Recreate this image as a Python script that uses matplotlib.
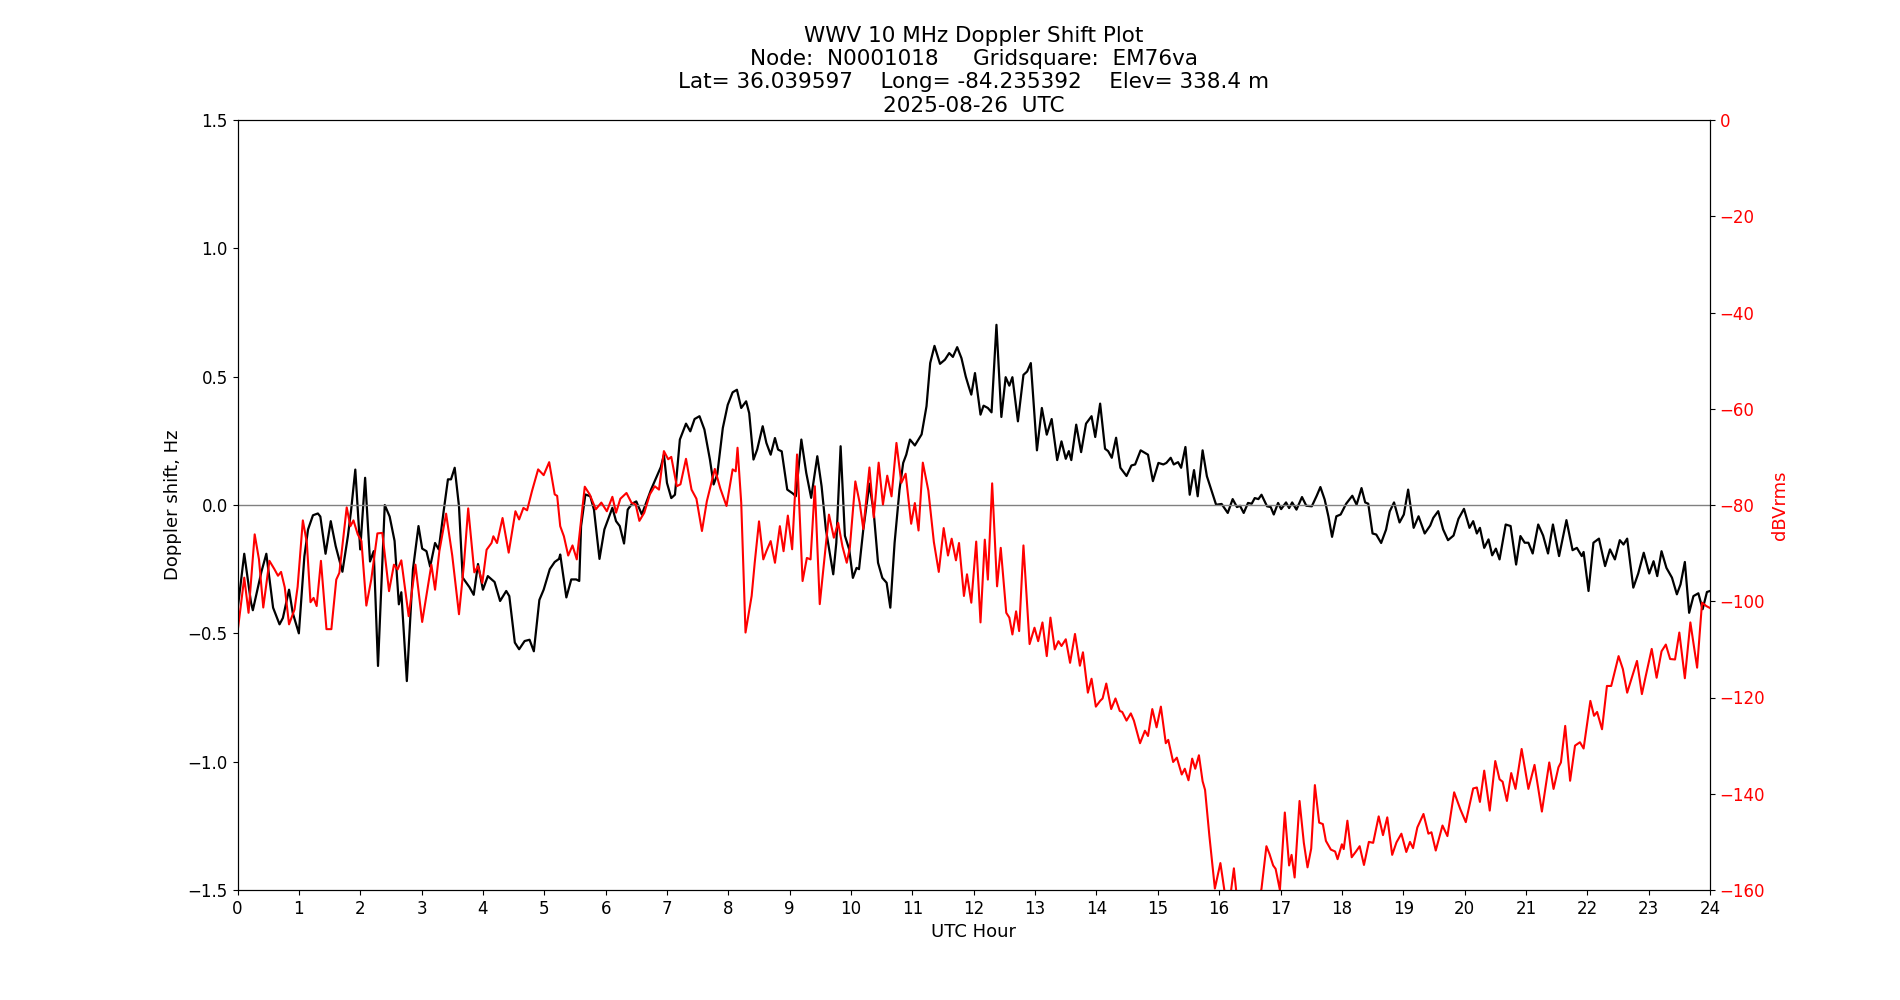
import numpy as np
import matplotlib
matplotlib.use('Agg')
import matplotlib.pyplot as plt

# Doppler shift (Hz)
doppler_hours = [0.0, 0.11, 0.22, 0.25, 0.39, 0.47, 0.58, 0.685, 0.74, 0.84, 0.90, 1.0, 1.09, 1.15,
                 1.23, 1.31, 1.35, 1.435, 1.52, 1.60, 1.71, 1.80, 1.85, 1.92, 2.0, 2.08, 2.16, 2.22,
                 2.29, 2.40, 2.48, 2.56, 2.63, 2.67, 2.76, 2.86, 2.95, 3.01, 3.08, 3.14, 3.22, 3.28,
                 3.36, 3.43, 3.48, 3.54, 3.61, 3.67, 3.78, 3.85, 3.92, 4.0, 4.08, 4.19, 4.28, 4.38,
                 4.43, 4.52, 4.59, 4.68, 4.76, 4.83, 4.92, 4.99, 5.09, 5.17, 5.24, 5.26, 5.36, 5.44,
                 5.52, 5.57, 5.60, 5.67, 5.75, 5.81, 5.90, 5.98, 6.11, 6.17, 6.23, 6.30, 6.36, 6.43,
                 6.50, 6.59, 6.66, 6.74, 6.83, 6.90, 6.95, 7.00, 7.07, 7.13, 7.21, 7.31, 7.38, 7.45,
                 7.53, 7.61, 7.70, 7.76, 7.82, 7.91, 7.99, 8.07, 8.14, 8.21, 8.29, 8.34, 8.41, 8.47,
                 8.56, 8.62, 8.69, 8.76, 8.81, 8.87, 8.96, 9.05, 9.10, 9.19, 9.27, 9.35, 9.45, 9.52,
                 9.59, 9.71, 9.76, 9.83, 9.90, 9.97, 10.03, 10.09, 10.13, 10.20, 10.30, 10.37, 10.44,
                 10.51, 10.58, 10.64, 10.71, 10.79, 10.85, 10.90, 10.96, 11.04, 11.15, 11.23, 11.29,
                 11.36, 11.45, 11.53, 11.60, 11.66, 11.73, 11.80, 11.87, 11.92, 11.96, 12.02, 12.11,
                 12.16, 12.23, 12.29, 12.37, 12.45, 12.52, 12.58, 12.63, 12.72, 12.81, 12.87, 12.93,
                 13.03, 13.11, 13.19, 13.27, 13.36, 13.43, 13.50, 13.55, 13.59, 13.67, 13.75, 13.83,
                 13.92, 13.98, 14.06, 14.14, 14.19, 14.25, 14.32, 14.39, 14.49, 14.57, 14.63, 14.72,
                 14.84, 14.92, 15.01, 15.09, 15.14, 15.21, 15.26, 15.33, 15.38, 15.45, 15.52, 15.59,
                 15.65, 15.73, 15.80, 15.88, 15.95, 16.04, 16.14, 16.22, 16.29, 16.34, 16.40, 16.47,
                 16.53, 16.58, 16.64, 16.69, 16.78, 16.84, 16.89, 16.96, 17.01, 17.09, 17.14, 17.19,
                 17.26, 17.35, 17.42, 17.51, 17.59, 17.65, 17.72, 17.78, 17.84, 17.91, 17.98, 18.07,
                 18.17, 18.24, 18.32, 18.38, 18.43, 18.50, 18.56, 18.64, 18.72, 18.78, 18.85, 18.94,
                 19.01, 19.08, 19.17, 19.25, 19.35, 19.44, 19.49, 19.57, 19.65, 19.73, 19.82, 19.90,
                 19.99, 20.08, 20.14, 20.20, 20.25, 20.32, 20.39, 20.45, 20.51, 20.57, 20.67, 20.75,
                 20.84, 20.91, 20.98, 21.04, 21.11, 21.20, 21.28, 21.36, 21.44, 21.54, 21.66, 21.76,
                 21.83, 21.91, 21.94, 22.02, 22.10, 22.19, 22.29, 22.37, 22.45, 22.53, 22.59, 22.65,
                 22.75, 22.83, 22.92, 23.01, 23.08, 23.14, 23.21, 23.29, 23.38, 23.46, 23.52, 23.59,
                 23.66, 23.73, 23.81, 23.88, 23.95, 24.0]
doppler_hz = [-0.41, -0.19, -0.38, -0.41, -0.26, -0.19, -0.40, -0.465, -0.44, -0.33, -0.42, -0.50,
              -0.20, -0.095, -0.04, -0.033, -0.045, -0.19, -0.063, -0.16, -0.26, -0.12, -0.024, 0.138,
              -0.173, 0.106, -0.22, -0.18, -0.627, 0.0, -0.045, -0.14, -0.387, -0.34, -0.686, -0.25,
              -0.082, -0.17, -0.18, -0.24, -0.148, -0.173, -0.024, 0.10, 0.10, 0.145, -0.005, -0.283,
              -0.32, -0.35, -0.23, -0.33, -0.277, -0.30, -0.374, -0.335, -0.355, -0.536, -0.562,
              -0.53, -0.525, -0.57, -0.37, -0.33, -0.25, -0.222, -0.21, -0.193, -0.36, -0.29, -0.29,
              -0.296, -0.082, 0.041, 0.034, -0.018, -0.21, -0.095, -0.011, -0.063, -0.082, -0.15,
              -0.018, 0.005, 0.014, -0.037, 0.008, 0.06, 0.109, 0.148, 0.196, 0.086, 0.027, 0.04,
              0.255, 0.317, 0.287, 0.335, 0.346, 0.294, 0.177, 0.08, 0.12, 0.30, 0.39, 0.439, 0.449,
              0.378, 0.404, 0.358, 0.177, 0.216, 0.307, 0.242, 0.196, 0.261, 0.216, 0.209, 0.06,
              0.045, 0.034, 0.255, 0.125, 0.028, 0.19, 0.073, -0.095, -0.27, -0.147, 0.229, -0.12,
              -0.173, -0.284, -0.245, -0.25, -0.095, 0.083, -0.03, -0.225, -0.284, -0.303, -0.40,
              -0.147, 0.06, 0.164, 0.196, 0.255, 0.232, 0.275, 0.385, 0.553, 0.62, 0.55, 0.566,
              0.592, 0.577, 0.615, 0.572, 0.50, 0.46, 0.43, 0.514, 0.352, 0.387, 0.378, 0.361, 0.702,
              0.343, 0.498, 0.465, 0.498, 0.326, 0.507, 0.52, 0.553, 0.213, 0.378, 0.274, 0.335,
              0.175, 0.248, 0.18, 0.21, 0.175, 0.313, 0.206, 0.317, 0.346, 0.265, 0.395, 0.219, 0.21,
              0.184, 0.262, 0.145, 0.113, 0.154, 0.158, 0.213, 0.196, 0.093, 0.164, 0.158, 0.164,
              0.184, 0.158, 0.167, 0.145, 0.226, 0.04, 0.136, 0.034, 0.213, 0.112, 0.053, 0.001,
              0.004, -0.031, 0.023, -0.008, -0.003, -0.031, 0.008, 0.005, 0.027, 0.023, 0.04, -0.005,
              -0.008, -0.037, 0.008, -0.016, 0.01, -0.012, 0.01, -0.018, 0.031, -0.003, -0.005,
              0.036, 0.07, 0.021, -0.044, -0.124, -0.044, -0.037, 0.005, 0.036, 0.001, 0.066, 0.01,
              0.005, -0.111, -0.115, -0.148, -0.096, -0.025, 0.01, -0.068, -0.037, 0.06, -0.089,
              -0.044, -0.111, -0.08, -0.05, -0.024, -0.095, -0.137, -0.119, -0.054, -0.015, -0.089,
              -0.063, -0.111, -0.089, -0.167, -0.134, -0.196, -0.17, -0.212, -0.076, -0.082, -0.232,
              -0.121, -0.147, -0.147, -0.189, -0.076, -0.119, -0.189, -0.076, -0.199, -0.059, -0.176,
              -0.167, -0.199, -0.183, -0.335, -0.147, -0.131, -0.238, -0.173, -0.212, -0.137, -0.154,
              -0.131, -0.322, -0.267, -0.186, -0.267, -0.219, -0.277, -0.18, -0.245, -0.283, -0.348,
              -0.309, -0.222, -0.42, -0.355, -0.344, -0.406, -0.339, -0.335]

# signal level (dBVrms)
power_hours = [0.0, 0.11, 0.18, 0.28, 0.35, 0.42, 0.52, 0.60, 0.66, 0.71, 0.77, 0.84, 0.93, 0.98,
               1.065, 1.13, 1.19, 1.24, 1.29, 1.36, 1.45, 1.53, 1.61, 1.66, 1.78, 1.84, 1.89, 1.96,
               2.02, 2.10, 2.18, 2.28, 2.36, 2.47, 2.55, 2.61, 2.67, 2.79, 2.90, 3.01, 3.16, 3.22,
               3.29, 3.40, 3.50, 3.61, 3.69, 3.76, 3.86, 3.92, 3.99, 4.06, 4.14, 4.17, 4.23, 4.32,
               4.42, 4.53, 4.59, 4.66, 4.72, 4.80, 4.90, 4.99, 5.08, 5.17, 5.21, 5.26, 5.32, 5.39,
               5.46, 5.53, 5.66, 5.74, 5.84, 5.93, 6.02, 6.11, 6.17, 6.24, 6.34, 6.42, 6.49, 6.55,
               6.63, 6.72, 6.80, 6.87, 6.95, 7.02, 7.07, 7.16, 7.22, 7.31, 7.40, 7.48, 7.57, 7.65,
               7.78, 7.87, 7.97, 8.07, 8.12, 8.15, 8.21, 8.28, 8.38, 8.43, 8.50, 8.57, 8.62, 8.69,
               8.76, 8.84, 8.90, 8.97, 9.04, 9.12, 9.21, 9.28, 9.34, 9.41, 9.49, 9.56, 9.64, 9.72,
               9.79, 9.86, 9.93, 9.98, 10.07, 10.14, 10.20, 10.30, 10.37, 10.45, 10.52, 10.59, 10.66,
               10.74, 10.82, 10.89, 10.98, 11.04, 11.10, 11.17, 11.26, 11.35, 11.43, 11.51, 11.58,
               11.64, 11.71, 11.76, 11.84, 11.89, 11.96, 12.04, 12.11, 12.18, 12.23, 12.30, 12.38,
               12.44, 12.53, 12.58, 12.63, 12.69, 12.74, 12.81, 12.91, 12.99, 13.05, 13.12, 13.19,
               13.25, 13.32, 13.38, 13.43, 13.50, 13.57, 13.65, 13.73, 13.78, 13.86, 13.92, 13.99,
               14.06, 14.10, 14.16, 14.24, 14.31, 14.38, 14.42, 14.49, 14.56, 14.61, 14.71, 14.79,
               14.84, 14.91, 14.98, 15.05, 15.13, 15.17, 15.25, 15.31, 15.39, 15.44, 15.50, 15.56,
               15.61, 15.67, 15.73, 15.77, 15.81, 15.84, 15.93, 16.02, 16.09, 16.13, 16.19, 16.24,
               16.28, 16.35, 16.45, 16.55, 16.62, 16.65, 16.69, 16.77, 16.82, 16.88, 16.92, 16.99,
               17.07, 17.14, 17.18, 17.23, 17.31, 17.38, 17.44, 17.50, 17.56, 17.63, 17.69, 17.74,
               17.82, 17.89, 17.93, 18.00, 18.03, 18.09, 18.16, 18.23, 18.29, 18.36, 18.44, 18.51,
               18.60, 18.67, 18.74, 18.82, 18.89, 18.97, 19.05, 19.11, 19.16, 19.23, 19.33, 19.41,
               19.46, 19.53, 19.64, 19.72, 19.83, 19.93, 20.02, 20.14, 20.20, 20.25, 20.32, 20.41,
               20.50, 20.57, 20.62, 20.69, 20.76, 20.83, 20.93, 21.04, 21.14, 21.26, 21.38, 21.45,
               21.53, 21.57, 21.64, 21.72, 21.80, 21.88, 21.94, 22.05, 22.11, 22.16, 22.24, 22.32,
               22.39, 22.51, 22.58, 22.65, 22.81, 22.89, 22.95, 23.05, 23.13, 23.21, 23.28, 23.35,
               23.43, 23.50, 23.59, 23.68, 23.79, 23.87, 23.94, 24.0]
power_dbv = [-106.5, -95.1, -102.4, -86.1, -91.3, -101.3, -91.6, -93.3, -94.7, -93.9, -97.1, -104.8,
             -101.7, -97.0, -83.2, -87.8, -100.2, -99.3, -101.0, -91.6, -105.8, -105.8, -95.5, -94.1,
             -80.5, -84.4, -83.2, -86.1, -87.5, -100.9, -95.5, -85.9, -85.8, -97.9, -92.4, -93.4,
             -91.5, -103.1, -92.4, -104.3, -92.4, -97.6, -89.6, -81.8, -90.5, -102.7, -92.4, -80.7,
             -94.0, -92.7, -96.2, -89.3, -87.9, -86.5, -87.9, -82.7, -89.9, -81.3, -83.0, -80.6,
             -81.1, -77.1, -72.6, -73.8, -71.1, -77.8, -78.1, -84.4, -86.5, -90.5, -88.4, -91.3,
             -76.2, -77.8, -80.9, -79.5, -81.3, -78.3, -81.6, -78.7, -77.5, -79.5, -79.9, -83.3,
             -81.6, -77.8, -76.1, -76.8, -68.8, -70.5, -70.0, -76.1, -75.7, -70.4, -76.8, -78.7,
             -85.4, -79.2, -72.5, -76.6, -80.2, -72.6, -73.0, -68.1, -79.5, -106.5, -98.9, -92.0,
             -83.4, -91.3, -89.6, -87.5, -92.0, -84.4, -89.6, -82.2, -89.2, -69.5, -95.8, -91.0,
             -91.3, -76.1, -100.6, -92.0, -82.0, -86.8, -83.7, -88.6, -92.0, -88.9, -75.1, -79.5,
             -85.0, -72.2, -82.6, -71.2, -79.9, -73.9, -78.2, -67.1, -75.4, -73.5, -83.9, -79.6,
             -85.3, -71.2, -77.0, -87.7, -93.9, -84.8, -90.5, -87.0, -91.5, -87.9, -98.9, -94.4,
             -100.3, -87.6, -104.4, -87.2, -95.5, -75.5, -96.9, -88.9, -102.4, -103.4, -106.9,
             -102.1, -106.2, -88.4, -108.9, -105.5, -108.3, -104.4, -111.4, -103.4, -110.0, -108.3,
             -109.3, -107.9, -112.8, -106.8, -113.4, -110.6, -119.0, -116.1, -121.9, -120.7, -120.2,
             -117.1, -122.4, -120.2, -122.8, -123.0, -124.8, -123.3, -124.8, -129.5, -126.9, -128.0,
             -122.4, -126.2, -121.9, -129.5, -128.8, -133.4, -132.5, -136.0, -134.8, -137.2, -132.7,
             -134.8, -132.0, -137.4, -139.2, -144.6, -148.7, -159.7, -154.4, -160.5, -163.0, -160.5,
             -155.5, -160.5, -166.0, -168.0, -164.0, -160.2, -162.0, -159.7, -150.9, -152.5, -154.9,
             -155.6, -160.0, -143.9, -154.9, -152.7, -157.4, -141.5, -150.2, -155.3, -151.4, -138.2,
             -146.0, -146.3, -149.8, -151.6, -152.0, -153.6, -150.5, -151.5, -145.6, -153.2, -152.0,
             -150.9, -154.8, -150.0, -150.2, -144.7, -148.6, -144.9, -152.7, -150.1, -148.3, -152.1,
             -150.0, -151.3, -147.0, -144.2, -148.3, -148.0, -151.8, -146.6, -148.8, -139.7, -143.2,
             -145.9, -138.9, -138.7, -141.7, -135.2, -143.5, -133.2, -137.0, -137.5, -141.5, -135.7,
             -139.0, -130.7, -139.0, -134.0, -143.7, -133.5, -139.0, -134.5, -133.5, -125.9, -137.3,
             -130.0, -129.3, -130.6, -120.7, -123.8, -123.0, -126.6, -117.6, -117.6, -111.4, -114.1,
             -119.0, -112.4, -119.3, -115.7, -109.9, -115.9, -110.4, -109.0, -112.0, -112.1, -106.5,
             -116.0, -104.4, -113.8, -100.3, -101.0, -101.4]

plt.rcParams['font.size'] = 12

fig = plt.figure(figsize=(19, 10), dpi=100)
ax = fig.add_subplot(111)

ax.plot(doppler_hours, doppler_hz, color='black', linewidth=1.6)
ax.axhline(0, color='gray', linewidth=1)
ax.set_xlim(0, 24)
ax.set_ylim(-1.5, 1.5)
ax.set_xticks(range(0, 25))
ax.set_yticks(np.arange(-1.5, 1.51, 0.5))
ax.set_xlabel('UTC Hour', fontsize=13)
ax.set_ylabel('Doppler shift, Hz', fontsize=13)

ax2 = ax.twinx()
ax2.plot(power_hours, power_dbv, color='red', linewidth=1.5)
ax2.set_ylim(-160, 0)
ax2.set_yticks(range(-160, 1, 20))
ax2.set_ylabel('dBVrms', color='red', fontsize=13)
ax2.tick_params(axis='y', labelcolor='red')

ax.set_title('WWV 10 MHz Doppler Shift Plot\n'
             'Node:  N0001018     Gridsquare:  EM76va\n'
             'Lat= 36.039597    Long= -84.235392    Elev= 338.4 m\n'
             '2025-08-26  UTC', fontsize=15.5)

plt.savefig('out.png', dpi=100)
